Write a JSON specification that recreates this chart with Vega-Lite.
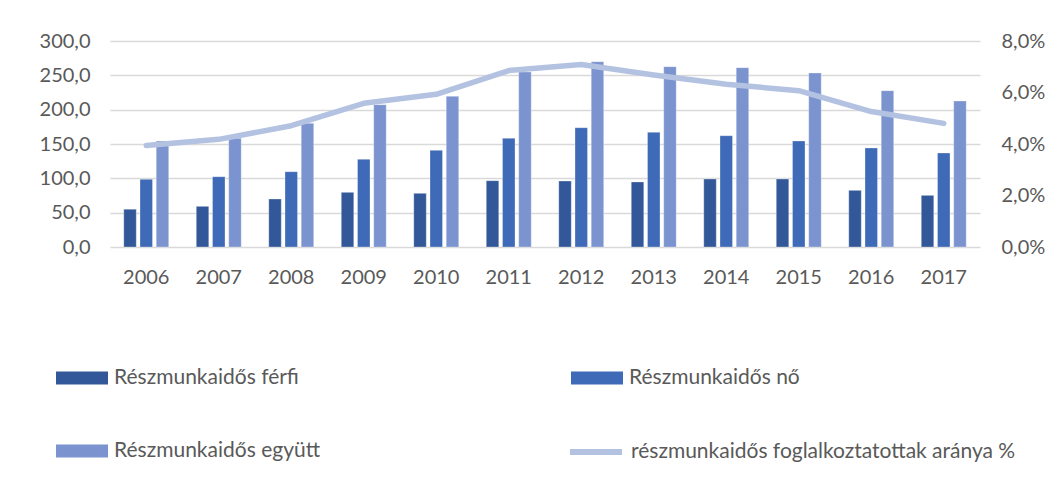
{
  "$schema": "https://vega.github.io/schema/vega-lite/v6.json",
  "width": 870,
  "height": 206,
  "autosize": {"type": "none"},
  "padding": {"left": 110, "top": 41, "right": 71, "bottom": 248},
  "background": "#ffffff",
  "config": {
    "locale": {"number": {"decimal": ",", "thousands": " ", "grouping": [3], "currency": ["", " Ft"]}},
    "font": "Lato",
    "view": {"stroke": null},
    "axis": {"labelFont": "Lato", "labelFontSize": 20, "labelColor": "#595959", "ticks": false, "domain": false, "title": null},
    "legend": {"labelFont": "Lato", "labelFontSize": 21, "labelColor": "#595959"}
  },
  "datasets": {
    "bars": [
      {"year": "2006", "series": "Részmunkaidős férfi", "value": 55.0},
      {"year": "2006", "series": "Részmunkaidős nő", "value": 98.5},
      {"year": "2006", "series": "Részmunkaidős együtt", "value": 154.4},
      {"year": "2007", "series": "Részmunkaidős férfi", "value": 59.2},
      {"year": "2007", "series": "Részmunkaidős nő", "value": 102.4},
      {"year": "2007", "series": "Részmunkaidős együtt", "value": 158.3},
      {"year": "2008", "series": "Részmunkaidős férfi", "value": 69.9},
      {"year": "2008", "series": "Részmunkaidős nő", "value": 109.7},
      {"year": "2008", "series": "Részmunkaidős együtt", "value": 180.1},
      {"year": "2009", "series": "Részmunkaidős férfi", "value": 79.6},
      {"year": "2009", "series": "Részmunkaidős nő", "value": 127.7},
      {"year": "2009", "series": "Részmunkaidős együtt", "value": 207.3},
      {"year": "2010", "series": "Részmunkaidős férfi", "value": 78.2},
      {"year": "2010", "series": "Részmunkaidős nő", "value": 140.8},
      {"year": "2010", "series": "Részmunkaidős együtt", "value": 219.4},
      {"year": "2011", "series": "Részmunkaidős férfi", "value": 96.6},
      {"year": "2011", "series": "Részmunkaidős nő", "value": 158.3},
      {"year": "2011", "series": "Részmunkaidős együtt", "value": 254.9},
      {"year": "2012", "series": "Részmunkaidős férfi", "value": 96.1},
      {"year": "2012", "series": "Részmunkaidős nő", "value": 173.8},
      {"year": "2012", "series": "Részmunkaidős együtt", "value": 269.9},
      {"year": "2013", "series": "Részmunkaidős férfi", "value": 94.7},
      {"year": "2013", "series": "Részmunkaidős nő", "value": 167.0},
      {"year": "2013", "series": "Részmunkaidős együtt", "value": 262.6},
      {"year": "2014", "series": "Részmunkaidős férfi", "value": 99.0},
      {"year": "2014", "series": "Részmunkaidős nő", "value": 162.1},
      {"year": "2014", "series": "Részmunkaidős együtt", "value": 261.2},
      {"year": "2015", "series": "Részmunkaidős férfi", "value": 99.0},
      {"year": "2015", "series": "Részmunkaidős nő", "value": 154.4},
      {"year": "2015", "series": "Részmunkaidős együtt", "value": 253.4},
      {"year": "2016", "series": "Részmunkaidős férfi", "value": 82.5},
      {"year": "2016", "series": "Részmunkaidős nő", "value": 144.2},
      {"year": "2016", "series": "Részmunkaidős együtt", "value": 227.7},
      {"year": "2017", "series": "Részmunkaidős férfi", "value": 75.2},
      {"year": "2017", "series": "Részmunkaidős nő", "value": 136.9},
      {"year": "2017", "series": "Részmunkaidős együtt", "value": 212.6}
    ],
    "line": [
      {"year": "2006", "series": "részmunkaidős foglalkoztatottak aránya %", "share": 0.0394},
      {"year": "2007", "series": "részmunkaidős foglalkoztatottak aránya %", "share": 0.0418},
      {"year": "2008", "series": "részmunkaidős foglalkoztatottak aránya %", "share": 0.0471},
      {"year": "2009", "series": "részmunkaidős foglalkoztatottak aránya %", "share": 0.0558},
      {"year": "2010", "series": "részmunkaidős foglalkoztatottak aránya %", "share": 0.0593},
      {"year": "2011", "series": "részmunkaidős foglalkoztatottak aránya %", "share": 0.0685},
      {"year": "2012", "series": "részmunkaidős foglalkoztatottak aránya %", "share": 0.0709},
      {"year": "2013", "series": "részmunkaidős foglalkoztatottak aránya %", "share": 0.0668},
      {"year": "2014", "series": "részmunkaidős foglalkoztatottak aránya %", "share": 0.0632},
      {"year": "2015", "series": "részmunkaidős foglalkoztatottak aránya %", "share": 0.0607},
      {"year": "2016", "series": "részmunkaidős foglalkoztatottak aránya %", "share": 0.0526},
      {"year": "2017", "series": "részmunkaidős foglalkoztatottak aránya %", "share": 0.0480}
    ]
  },
  "encoding": {
    "x": {
      "field": "year", "type": "nominal",
      "scale": {"paddingInner": 0.38, "paddingOuter": 0.19},
      "axis": {"labelAngle": 0, "labelPadding": 20, "grid": false}
    }
  },
  "layer": [
    {
      "data": {"name": "bars"},
      "mark": {"type": "bar", "stroke": "#ffffff", "strokeWidth": 0.6, "strokeOpacity": 0.5},
      "encoding": {
        "xOffset": {
          "field": "series", "type": "nominal",
          "sort": ["Részmunkaidős férfi", "Részmunkaidős nő", "Részmunkaidős együtt"],
          "scale": {"paddingInner": 0.23, "paddingOuter": 0}
        },
        "y": {
          "field": "value", "type": "quantitative",
          "scale": {"domain": [0, 300], "nice": false},
          "axis": {"values": [0, 50, 100, 150, 200, 250, 300], "format": ".1f", "labelPadding": 20, "grid": true, "gridColor": "#d9d9d9", "gridWidth": 1.3}
        },
        "color": {
          "field": "series", "type": "nominal",
          "sort": ["Részmunkaidős férfi", "Részmunkaidős nő", "Részmunkaidős együtt"],
          "scale": {"domain": ["Részmunkaidős férfi", "Részmunkaidős nő", "Részmunkaidős együtt"], "range": ["#325899", "#3e6ab7", "#7b93cf"]},
          "legend": {
            "title": null, "orient": "none", "direction": "horizontal", "columns": 2,
            "legendX": -54, "legendY": 311,
            "symbolType": "M-1,-0.25L1,-0.25L1,0.25L-1,0.25Z", "symbolSize": 2704,
            "symbolStrokeWidth": 0, "labelOffset": 6,
            "columnPadding": 250, "rowPadding": 37, "labelLimit": 400
          }
        }
      }
    },
    {
      "data": {"name": "line"},
      "mark": {"type": "line", "strokeWidth": 5.5, "strokeCap": "round", "strokeJoin": "round"},
      "encoding": {
        "y": {
          "field": "share", "type": "quantitative",
          "scale": {"domain": [0, 0.08], "nice": false},
          "axis": {"orient": "right", "values": [0, 0.02, 0.04, 0.06, 0.08], "format": ".1%", "labelPadding": 21, "grid": false}
        },
        "stroke": {
          "field": "series", "type": "nominal",
          "scale": {"range": ["#b4c2e1"]},
          "legend": {
            "title": null, "orient": "none", "legendX": 457, "legendY": 382,
            "symbolType": "stroke", "symbolSize": 2704, "symbolStrokeWidth": 6,
            "labelOffset": 6, "labelLimit": 500
          }
        }
      }
    }
  ],
  "resolve": {"scale": {"y": "independent"}}
}
